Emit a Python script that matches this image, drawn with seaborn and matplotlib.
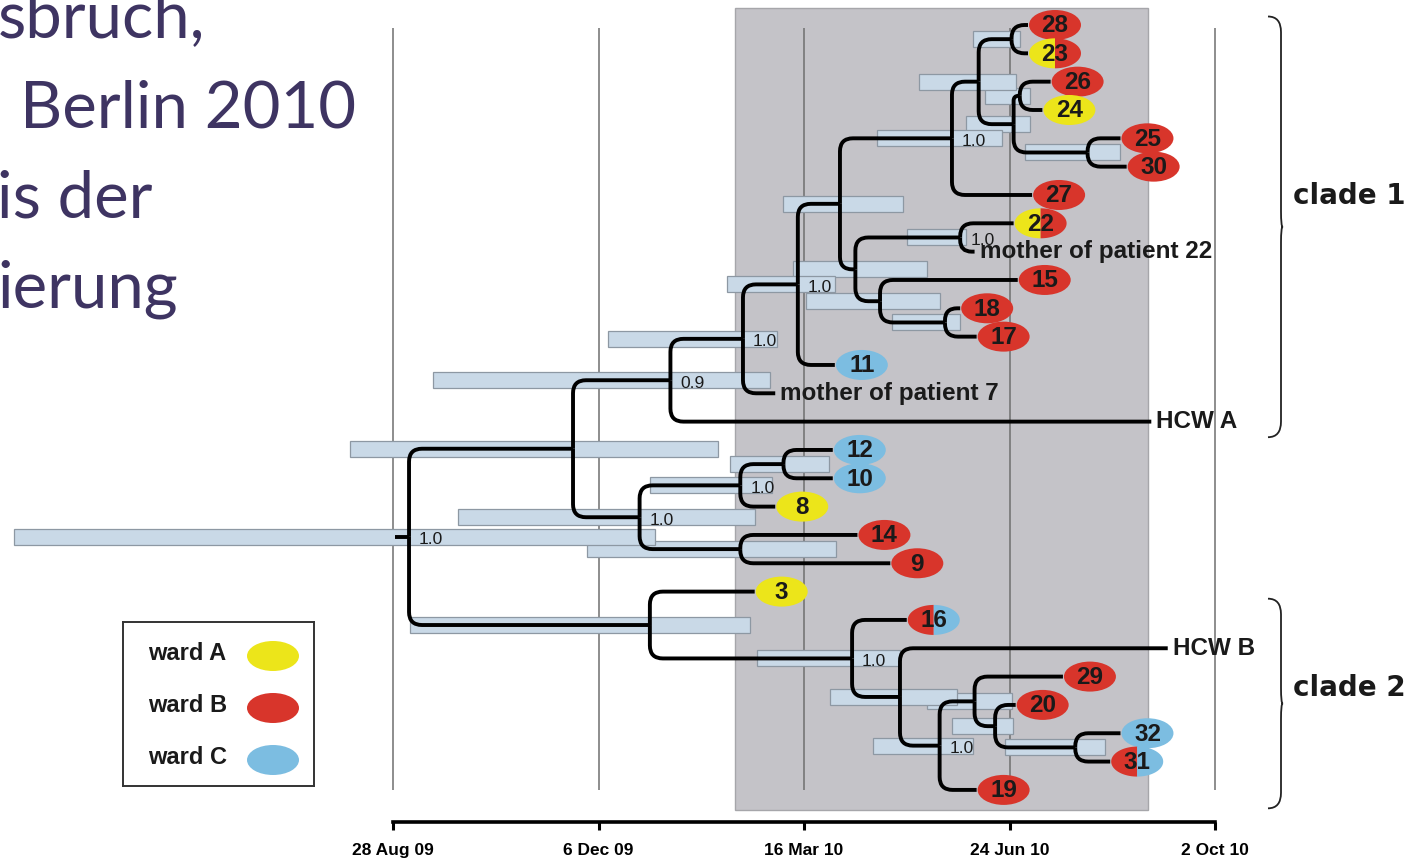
import numpy as np
import matplotlib
matplotlib.use("Agg")
import matplotlib.pyplot as plt
import seaborn as sns
from matplotlib.patches import Rectangle, Ellipse, Polygon, PathPatch
from matplotlib.path import Path

# ---------------- data ----------------
tick_days = [0, 100, 200, 300, 400]
tick_labels = ["28 Aug 09", "6 Dec 09", "16 Mar 10", "24 Jun 10", "2 Oct 10"]

tip_names = ["28", "23", "26", "24", "25", "30", "27", "22", "mother of patient 22",
             "15", "18", "17", "11", "mother of patient 7", "HCW A", "12", "10", "8",
             "14", "9", "3", "16", "HCW B", "29", "20", "32", "31", "19"]
tip_days = [309, 309, 320, 316, 354, 357, 311, 302, 283,
            304, 276, 284, 215, 186, 369, 214, 214, 186,
            226, 242, 176, 250, 377, 326, 303, 354, 349, 284]
tip_wards = ["B", "AB", "B", "A", "B", "B", "B", "AB", "",
             "B", "B", "B", "C", "", "", "C", "C", "A",
             "B", "B", "A", "BC", "", "B", "B", "C", "BC", "B"]

node_names = ["n28_23", "n26_24", "n25_30", "n_mid", "n_top", "n_27", "n_22", "n18_17",
              "n_15", "n_a", "n_b", "n_11", "n_m7", "n_hcwa", "n12_10", "n12_10_8",
              "n14_9", "n_c", "n_clade1", "n32_31", "n_20", "n_29", "n_19", "n_hcwb",
              "n_16", "n_clade2", "root"]
node_days = [301, 305, 338, 302, 285, 272, 276, 268.6,
             237, 225, 217.5, 197, 170.3, 135, 190, 169,
             169, 120, 87.6, 332, 293, 283, 266, 246.7,
             223.4, 125, 7.8]
node_children = [["28", "23"], ["26", "24"], ["25", "30"], ["n26_24", "n25_30"],
                 ["n28_23", "n_mid"], ["n_top", "27"], ["22", "mother of patient 22"],
                 ["18", "17"], ["15", "n18_17"], ["n_22", "n_15"], ["n_27", "n_a"],
                 ["n_b", "11"], ["n_11", "mother of patient 7"], ["n_m7", "HCW A"],
                 ["12", "10"], ["n12_10", "8"], ["14", "9"], ["n12_10_8", "n14_9"],
                 ["n_hcwa", "n_c"], ["32", "31"], ["20", "n32_31"], ["29", "n_20"],
                 ["n_29", "19"], ["HCW B", "n_19"], ["16", "n_hcwb"], ["3", "n_16"],
                 ["n_clade1", "n_clade2"]]
hpd_low = [282, 288, 307.5, 279, 256, 235.5, 250, 243,
           201, 194.5, 190, 162.5, 104.6, 19.5, 164, 125,
           94.4, 31.6, -21, 298, 272, 260, 233.6, 212.7,
           177, 8.3, -184.4]
hpd_high = [305, 310, 354, 310, 303, 296.5, 279, 276,
            266, 260, 248, 215, 187, 183.5, 212, 184.4,
            215.6, 176, 158, 346.5, 301.7, 301, 282, 274.5,
            246.7, 173.7, 127.5]
node_support = ["", "", "", "", "", "1.0", "1.0", "",
                "", "", "", "1.0", "1.0", "0.9", "", "1.0",
                "", "1.0", "", "", "", "", "1.0", "",
                "1.0", "", "1.0"]

ward_labels = ["ward A", "ward B", "ward C"]
ward_keys = ["A", "B", "C"]
ward_colors = {"A": "#ece51a", "B": "#d8352b", "C": "#7cbde1"}

outbreak_window = [166.4, 367.4]
clade_labels = ["clade 1", "clade 2"]
clade_rows = [(-0.3, 14.55), (20.25, 27.65)]
clade_label_rows = [6.05, 23.4]

title_lines = ["sbruch,", "Berlin 2010", "is der", "ierung"]

# ---------------- layout ----------------
W, H = 1424, 859
PX_DAY = 2.055      # pixels per day
PX_ROW = 28.33      # pixels per tip row
X0_PX, Y0_PX = 393, 25

sns.set_theme(style="white")
plt.rcParams["font.family"] = ["Liberation Sans", "DejaVu Sans"]

fig = plt.figure(figsize=(W / 100, H / 100), dpi=100)
ax = fig.add_axes([0, 0, 1, 1])
ax.set_xlim(-X0_PX / PX_DAY, (W - X0_PX) / PX_DAY)
ax.set_ylim((H - Y0_PX) / PX_ROW, -Y0_PX / PX_ROW)
ax.set_facecolor("white")
for s in ["top", "left", "right"]:
    ax.spines[s].set_visible(False)
ax.spines["bottom"].set_position(("data", (822 - Y0_PX) / PX_ROW))
ax.spines["bottom"].set_bounds(tick_days[0], tick_days[-1])
ax.spines["bottom"].set_linewidth(2.6)
ax.spines["bottom"].set_color("black")
ax.set_yticks([])
ax.set_xticks(tick_days)
ax.set_xticklabels(tick_labels, fontweight="bold", fontsize=12.5)
ax.tick_params(axis="x", direction="out", length=6, width=2.2, pad=9,
               colors="black", bottom=True)

# shaded outbreak window
ax.add_patch(Rectangle((outbreak_window[0], -0.6), outbreak_window[1] - outbreak_window[0],
                       28.3, fc="#c4c3c8", ec="#a6a6aa", lw=1, zorder=0))
# vertical time lines
ax.vlines(tick_days, 0.1, 27.0, colors="#6f6f6f", lw=1.1, zorder=1)

# ---------------- tree geometry ----------------
pos = {}
for i, n in enumerate(tip_names):
    pos[n] = (tip_days[i], float(i))
node_index = {n: i for i, n in enumerate(node_names)}


def node_pos(name):
    if name in pos:
        return pos[name]
    i = node_index[name]
    ys = [node_pos(c)[1] for c in node_children[i]]
    pos[name] = (node_days[i], float(np.mean(ys)))
    return pos[name]


for n in node_names:
    node_pos(n)

# HPD bars
bar_h = 16 / PX_ROW
for i, n in enumerate(node_names):
    x, y = pos[n]
    ax.add_patch(Rectangle((hpd_low[i], y - bar_h / 2), hpd_high[i] - hpd_low[i], bar_h,
                           fc="#c9d9e7", ec="#8d98a3", lw=0.9, zorder=2))

# branches
for i, n in enumerate(node_names):
    xp, yp = pos[n]
    for c in node_children[i]:
        xc, yc = pos[c]
        dy_px = abs(yc - yp) * PX_ROW
        dx_px = (xc - xp) * PX_DAY
        r = max(min(13, dy_px, dx_px * 0.8), 0.5)
        sgn = 1 if yc > yp else -1
        ry = sgn * r / PX_ROW
        rx = r / PX_DAY
        verts = [(xp, yp), (xp, yc - ry), (xp, yc), (xp + rx, yc), (xc, yc)]
        codes = [Path.MOVETO, Path.LINETO, Path.CURVE3, Path.CURVE3, Path.LINETO]
        ax.add_patch(PathPatch(Path(verts, codes), fc="none", ec="black", lw=2.8,
                               capstyle="butt", joinstyle="round", zorder=3))
# root stub
rx_, ry_ = pos["root"]
ax.plot([rx_ - 7, rx_], [ry_, ry_], color="black", lw=2.8, solid_capstyle="butt", zorder=3)

# support labels
for i, n in enumerate(node_names):
    if node_support[i]:
        x, y = pos[n]
        ax.text(x + 10 / PX_DAY, y + 3 / PX_ROW, node_support[i], fontsize=12.5,
                ha="left", va="center", color="#1a1a1a", zorder=4)

# tip labels
ew, eh = 52 / PX_DAY, 30 / PX_ROW
off = 27 / PX_DAY
for i, n in enumerate(tip_names):
    x, y = pos[n]
    w = tip_wards[i]
    if w == "":
        ax.text(x + 5 / PX_DAY, y, n, fontsize=17.5, fontweight="bold", ha="left",
                va="center", color="#1a1a1a", zorder=5)
        continue
    cx = x + off
    if len(w) == 1:
        ax.add_patch(Ellipse((cx, y), ew, eh, fc=ward_colors[w], ec="none", zorder=4))
    else:
        t1 = np.linspace(np.pi / 2, 3 * np.pi / 2, 60)
        t2 = np.linspace(-np.pi / 2, np.pi / 2, 60)
        for t, k in [(t1, w[0]), (t2, w[1])]:
            pts = np.column_stack([cx + ew / 2 * np.cos(t), y + eh / 2 * np.sin(t)])
            ax.add_patch(Polygon(pts, closed=True, fc=ward_colors[k], ec="none", zorder=4))
    ax.text(cx, y + 1 / PX_ROW, n, fontsize=17.5, fontweight="bold", ha="center",
            va="center", color="#1a1a1a", zorder=5)

# clade braces
x_hook, x_line = (1268 - X0_PX) / PX_DAY, (1281 - X0_PX) / PX_DAY
for lab, (top, bot), ly in zip(clade_labels, clade_rows, clade_label_rows):
    mid = (top + bot) / 2
    r = 0.55
    cusp = 0.8
    verts = [(x_hook, top), (x_line, top), (x_line, top + r),
             (x_line, mid - r), (x_line, mid), (x_line + cusp, mid),
             (x_line, mid), (x_line, mid + r),
             (x_line, bot - r), (x_line, bot), (x_hook, bot)]
    codes = [Path.MOVETO, Path.CURVE3, Path.CURVE3,
             Path.LINETO, Path.CURVE3, Path.CURVE3,
             Path.CURVE3, Path.CURVE3,
             Path.LINETO, Path.CURVE3, Path.CURVE3]
    ax.add_patch(PathPatch(Path(verts, codes), fc="none", ec="#222222", lw=1.3, zorder=3))
    ax.text((1293 - X0_PX) / PX_DAY, ly, lab, fontsize=20, fontweight="bold",
            family="DejaVu Sans", ha="left", va="center", color="#1a1a1a")

# ---------------- legend box ----------------
lax = fig.add_axes([123 / W, 1 - 786 / H, 191 / W, 164 / H])
lax.set_xlim(0, 191)
lax.set_ylim(164, 0)
lax.set_xticks([])
lax.set_yticks([])
lax.set_facecolor("white")
for s in lax.spines.values():
    s.set_visible(True)
    s.set_color("#333333")
    s.set_linewidth(1.4)
for i, (lab, k) in enumerate(zip(ward_labels, ward_keys)):
    yy = 32 + 52 * i
    lax.text(25, yy, lab, fontsize=17, fontweight="bold", ha="left", va="center",
             color="#1a1a1a")
    lax.add_patch(Ellipse((150, yy + 2), 52, 30, fc=ward_colors[k], ec="none"))

# ---------------- slide title fragments ----------------
title_x = [-2, 20, -3, -3]
title_base = [37, 128, 217, 307]
for t, xx, yy in zip(title_lines, title_x, title_base):
    fig.text(xx / W, 1 - yy / H, t, fontsize=47, family="Lato", color="#3e3462",
             ha="left", va="baseline")

fig.savefig("out.png", dpi=100)
